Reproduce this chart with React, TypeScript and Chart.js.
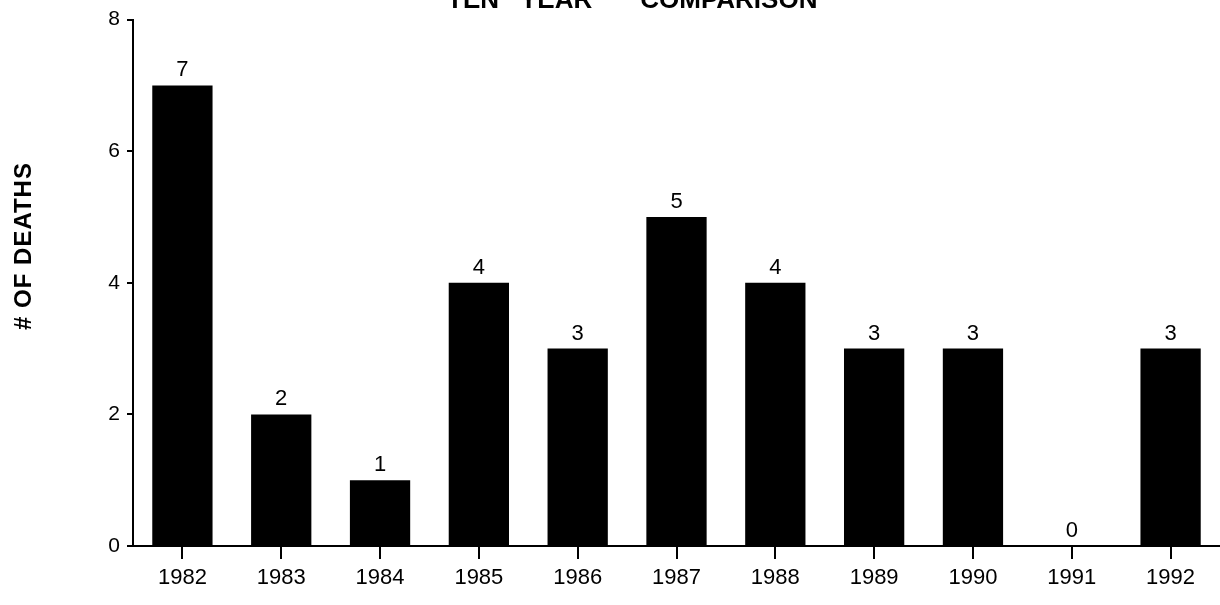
import React, { useEffect, useRef } from "react";
import { Chart, registerables } from "chart.js";

Chart.register(...registerables);

const years = ["1982", "1983", "1984", "1985", "1986", "1987", "1988", "1989", "1990", "1991", "1992"];
const deaths = [7, 2, 1, 4, 3, 5, 4, 3, 3, 0, 3];
const yTicks = [0, 2, 4, 6, 8];
const titleWords = ["TEN", "YEAR", "COMPARISON"];
const yAxisTitle = "# OF DEATHS";

const FONT = "'Liberation Sans', Arial, Helvetica, sans-serif";

const overlayPlugin = {
  id: "overlay",
  afterDatasetsDraw(chart: any) {
    const ctx = chart.ctx;
    ctx.save();
    ctx.fillStyle = "#000";
    // value labels
    ctx.font = `22px ${FONT}`;
    ctx.textAlign = "center";
    ctx.textBaseline = "alphabetic";
    const meta = chart.getDatasetMeta(0);
    meta.data.forEach((bar: any, i: number) => {
      ctx.fillText(String(deaths[i]), bar.x, bar.y - 9);
    });
    // title (partially cut at top)
    ctx.font = `bold 26px ${FONT}`;
    ctx.textAlign = "left";
    let x = 447;
    const gaps = [21, 48];
    titleWords.forEach((w, i) => {
      ctx.fillText(w, x, 8);
      x += ctx.measureText(w).width + (gaps[i] || 0);
    });
    // y axis title
    ctx.translate(31, 246);
    ctx.rotate(-Math.PI / 2);
    ctx.font = `bold 24px ${FONT}`;
    try { (ctx as any).letterSpacing = "1px"; } catch (e) {}
    ctx.textAlign = "center";
    ctx.fillText(yAxisTitle, 0, 0);
    ctx.restore();
  },
};

export default function App() {
  const ref = useRef<HTMLCanvasElement>(null);
  useEffect(() => {
    if (!ref.current) return;
    const chart = new Chart(ref.current, {
      type: "bar",
      data: {
        labels: years,
        datasets: [
          {
            data: deaths,
            backgroundColor: "#000",
            borderWidth: 0,
            barPercentage: 0.61,
            categoryPercentage: 1,
          },
        ],
      },
      options: {
        responsive: false,
        animation: false,
        layout: { padding: { top: 15, left: 0, right: 0, bottom: 0 } },
        plugins: { legend: { display: false }, tooltip: { enabled: false }, title: { display: false } },
        scales: {
          x: {
            grid: { display: true, offset: false, drawOnChartArea: false, drawTicks: true, tickLength: 13, color: "#000", lineWidth: 2 },
            border: { display: true, color: "#000", width: 2 },
            ticks: { color: "#000", font: { family: FONT, size: 22 }, padding: 6, maxRotation: 0, autoSkip: false },
            afterFit: (s: any) => { s.height = 59; },
          },
          y: {
            min: 0,
            max: 8,
            afterBuildTicks: (s: any) => { s.ticks = yTicks.map((v) => ({ value: v })); },
            grid: { display: true, drawOnChartArea: false, drawTicks: true, tickLength: 6, color: "#000", lineWidth: 2 },
            border: { display: true, color: "#000", width: 2 },
            ticks: { color: "#000", font: { family: FONT, size: 21 }, padding: 7 },
            afterFit: (s: any) => { s.width = 133; },
          },
        },
      },
      plugins: [overlayPlugin],
    });
    return () => chart.destroy();
  }, []);
  return (
    <div style={{ position: "absolute", left: 0, top: 0, width: 1220, height: 605, background: "#fff" }}>
      <canvas ref={ref} width={1220} height={605} style={{ display: "block" }} />
    </div>
  );
}
